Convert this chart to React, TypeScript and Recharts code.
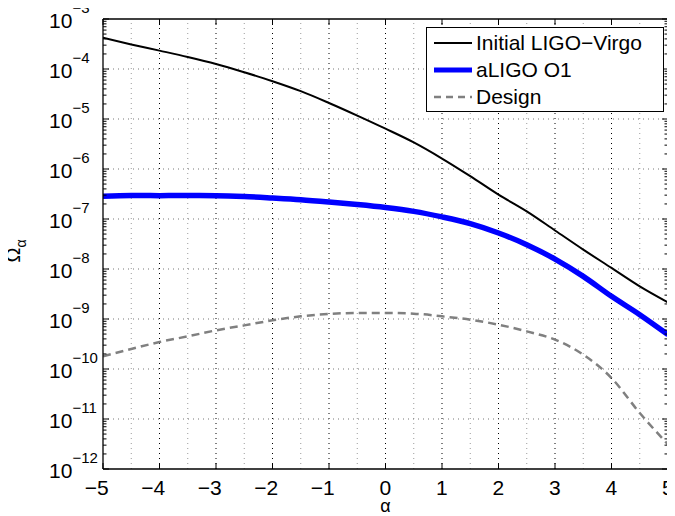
import React from 'react';
import { LineChart, Line, XAxis, YAxis, ReferenceLine } from 'recharts';

const alphas = [-5, -4.5, -4, -3.5, -3, -2.5, -2, -1.5, -1, -0.5, 0, 0.5, 1, 1.5, 2, 2.5, 3, 3.5, 4, 4.5, 5];
const initialLigoVirgo = [4.2e-4, 3.1e-4, 2.33e-4, 1.74e-4, 1.26e-4, 8.6e-5, 5.7e-5, 3.6e-5, 2.09e-5, 1.17e-5, 6.4e-6, 3.4e-6, 1.62e-6, 7.2e-7, 3.07e-7, 1.42e-7, 5.9e-8, 2.44e-8, 1.05e-8, 4.5e-9, 2.15e-9];
const aligoO1 = [2.84e-7, 2.95e-7, 2.93e-7, 2.95e-7, 2.93e-7, 2.82e-7, 2.63e-7, 2.43e-7, 2.19e-7, 1.95e-7, 1.7e-7, 1.42e-7, 1.1e-7, 8.07e-8, 5.25e-8, 3.07e-8, 1.58e-8, 7.13e-9, 2.84e-9, 1.22e-9, 4.86e-10];
const design = [1.79e-10, 2.51e-10, 3.47e-10, 4.5e-10, 5.93e-10, 7.46e-10, 9.4e-10, 1.13e-9, 1.26e-9, 1.32e-9, 1.32e-9, 1.28e-9, 1.13e-9, 9.7e-10, 7.7e-10, 5.66e-10, 3.86e-10, 1.94e-10, 6.6e-11, 1.32e-11, 3.1e-12];

const xTicks = [-5, -4, -3, -2, -1, 0, 1, 2, 3, 4, 5];
const xHalfGrid = [-4.5, -3.5, -2.5, -1.5, -0.5, 0.5, 1.5, 2.5, 3.5, 4.5];
const xIntGrid = [-4, -3, -2, -1, 0, 1, 2, 3, 4];
const decadeExponents = [-12, -11, -10, -9, -8, -7, -6, -5, -4, -3];
const yGridExponents = [-11, -10, -9, -8, -7, -6, -5, -4];
const minorMantissas = [2, 3, 4, 5, 6, 7, 8, 9];

const yTicks: number[] = [];
decadeExponents.forEach((e) => {
  yTicks.push(parseFloat(`1e${e}`));
  if (e < -3) minorMantissas.forEach((m) => yTicks.push(parseFloat(`${m}e${e}`)));
});

const data = alphas.map((a, i) => ({
  alpha: a,
  initial: initialLigoVirgo[i],
  o1: aligoO1[i],
  design: design[i],
}));

const FONT = '"Liberation Sans", Arial, Helvetica, sans-serif';

const expOf = (v: number) => {
  const l = Math.log10(v);
  const e = Math.round(l);
  return { e, major: Math.abs(l - e) < 1e-6 };
};

const LeftYTick = (props: any) => {
  const { x, y, payload } = props;
  const { e, major } = expOf(payload.value);
  const len = major ? 6 : 3.5;
  return (
    <g>
      <line x1={x} x2={x + len} y1={y} y2={y} stroke="#000" strokeWidth={1} />
      {major && (
        <>
          <text x={x - 54} y={y + 8.5} fontSize={21} fontFamily={FONT} fill="#000">10</text>
          <text x={x - 30.5} y={y - 6} fontSize={15} fontFamily={FONT} fill="#000">{`\u2212${Math.abs(e)}`}</text>
        </>
      )}
    </g>
  );
};

const RightYTick = (props: any) => {
  const { x, y, payload } = props;
  const { major } = expOf(payload.value);
  const len = major ? 6 : 3.5;
  return <line x1={x} x2={x - len} y1={y} y2={y} stroke="#000" strokeWidth={1} />;
};

const BottomXTick = (props: any) => {
  const { x, y, payload } = props;
  const v = payload.value as number;
  const label = v < 0 ? `\u2212${Math.abs(v)}` : `${v}`;
  return (
    <g>
      <line x1={x} x2={x} y1={y} y2={y - 6} stroke="#000" strokeWidth={1} />
      <text x={x + 5.8} y={y + 25.5} textAnchor="end" fontSize={21} fontFamily={FONT} fill="#000">{label}</text>
    </g>
  );
};

const TopXTick = (props: any) => {
  const { x, y } = props;
  return <line x1={x} x2={x} y1={y} y2={y + 6} stroke="#000" strokeWidth={1} />;
};

const legendItems = [
  { name: 'Initial LIGO\u2212Virgo', color: '#000', width: 2, dash: undefined as string | undefined },
  { name: 'aLIGO O1', color: '#0000ff', width: 5, dash: undefined as string | undefined },
  { name: 'Design', color: '#808080', width: 2.5, dash: '7 5' },
];

export default function App() {
  return (
    <div style={{ position: 'relative', width: 675, height: 516, marginLeft: -8, marginTop: -8 }}>
      <LineChart width={675} height={516} data={data} margin={{ top: 0, right: 0, bottom: 0, left: 0 }}>
        <XAxis
          dataKey="alpha"
          type="number"
          domain={[-5, 5]}
          ticks={xTicks}
          interval={0}
          allowDataOverflow
          height={47}
          tickSize={0}
          tickMargin={0}
          tickLine={false}
          axisLine={{ stroke: '#000', strokeWidth: 1.3 }}
          tick={(p: any) => <BottomXTick {...p} />}
          label={(p: any) => {
            const vb = p.viewBox || { x: 103, y: 469, width: 565, height: 47 };
            return (
              <text x={vb.x + vb.width / 2} y={vb.y + 43} textAnchor="middle" fontSize={18} fontFamily={FONT} fill="#000">
                {'\u03b1'}
              </text>
            );
          }}
        />
        <XAxis
          xAxisId="top"
          orientation="top"
          dataKey="alpha"
          type="number"
          domain={[-5, 5]}
          ticks={xTicks}
          interval={0}
          allowDataOverflow
          height={19}
          tickSize={0}
          tickMargin={0}
          tickLine={false}
          axisLine={{ stroke: '#000', strokeWidth: 1.3 }}
          tick={(p: any) => <TopXTick {...p} />}
        />
        <YAxis
          scale="log"
          type="number"
          domain={[1e-12, 1e-3]}
          allowDataOverflow
          ticks={yTicks}
          interval={0}
          width={103}
          tickSize={0}
          tickMargin={0}
          tickLine={false}
          axisLine={{ stroke: '#000', strokeWidth: 1.3 }}
          tick={(p: any) => <LeftYTick {...p} />}
          label={() => {
            const cx = 19.5;
            const cy = 251;
            return (
              <text x={cx} y={cy} transform={`rotate(-90, ${cx}, ${cy})`} textAnchor="middle" fontFamily={FONT} fill="#000">
                <tspan fontSize={20}>{'\u03a9'}</tspan>
                <tspan fontSize={14} dy={6}>{'\u03b1'}</tspan>
              </text>
            );
          }}
        />
        <YAxis
          yAxisId="right"
          orientation="right"
          scale="log"
          type="number"
          domain={[1e-12, 1e-3]}
          allowDataOverflow
          ticks={yTicks}
          interval={0}
          width={7}
          tickSize={0}
          tickMargin={0}
          tickLine={false}
          axisLine={{ stroke: '#000', strokeWidth: 1.3 }}
          tick={(p: any) => <RightYTick {...p} />}
        />

        {xHalfGrid.map((v) => (
          <ReferenceLine key={`xh${v}`} x={v} stroke="#9a9a9a" strokeWidth={1} strokeDasharray="1 4" />
        ))}
        {xIntGrid.map((v) => (
          <ReferenceLine key={`xi${v}`} x={v} stroke="#000" strokeWidth={1} strokeDasharray="1 4" />
        ))}
        {yGridExponents.map((e) => (
          <ReferenceLine key={`y${e}`} y={parseFloat(`1e${e}`)} stroke="#777" strokeWidth={1} strokeDasharray="1 4" />
        ))}

        <Line
          xAxisId="top"
          yAxisId="right"
          dataKey="design"
          stroke="none"
          dot={false}
          activeDot={false}
          legendType="none"
          isAnimationActive={false}
        />
        <Line type="monotone" dataKey="initial" stroke="#000" strokeWidth={2} dot={false} isAnimationActive={false} />
        <Line type="monotone" dataKey="o1" stroke="#0000ff" strokeWidth={5.5} dot={false} isAnimationActive={false} />
        <Line
          type="monotone"
          dataKey="design"
          stroke="#808080"
          strokeWidth={2.5}
          strokeDasharray="8 5"
          dot={false}
          isAnimationActive={false}
        />
      </LineChart>
      <div
        style={{
          position: 'absolute',
          left: 426,
          top: 27,
          width: 238,
          height: 85,
          border: '1.3px solid #000',
          background: '#fff',
          fontFamily: FONT,
          fontSize: 21,
          color: '#000',
          boxSizing: 'border-box',
        }}
      >
        {legendItems.map((it, i) => (
          <div key={it.name} style={{ position: 'absolute', left: 6, top: 2 + i * 27, height: 26, display: 'flex', alignItems: 'center', whiteSpace: 'nowrap' }}>
            <svg width={40} height={10} style={{ marginRight: 3 }}>
              <line x1={1} x2={39} y1={5} y2={5} stroke={it.color} strokeWidth={it.width} strokeDasharray={it.dash} />
            </svg>
            <span>{it.name}</span>
          </div>
        ))}
      </div>
    </div>
  );
}
